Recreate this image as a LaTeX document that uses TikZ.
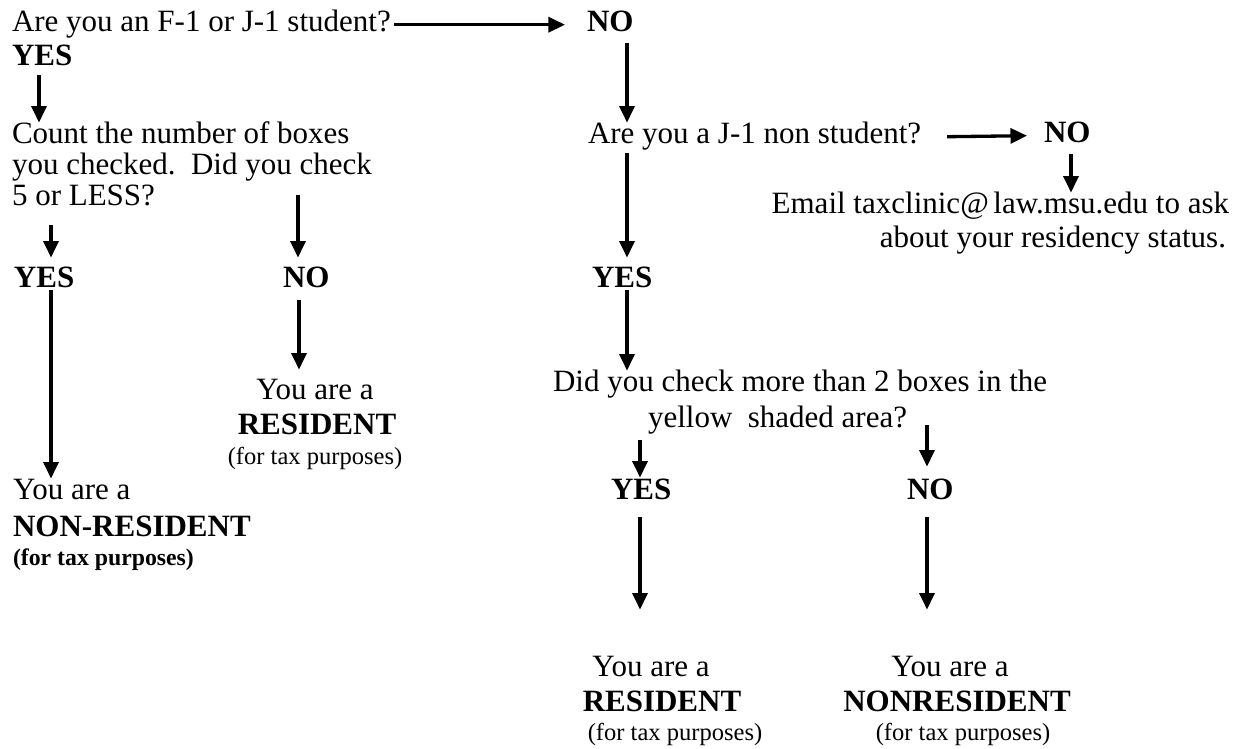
\documentclass[tikz,border=0pt]{standalone}
\usepackage{fontspec}
\setmainfont{Liberation Serif}
\usetikzlibrary{arrows.meta}
\newdimen\pxu \pxu=0.3871pt
\begin{document}
\begin{tikzpicture}[x=0.3871pt,y=-0.3871pt,
  txt/.style={inner sep=0pt, outer sep=0pt, text height=8.28pt, text depth=2.64pt, font=\fontsize{12}{14}\selectfont, anchor=base west},
  bld/.style={txt, font=\fontsize{12}{14}\selectfont\bfseries},
  small/.style={txt, text height=6.6pt, text depth=2.1pt, font=\fontsize{9.5}{11}\selectfont},
  smallb/.style={small, font=\fontsize{9.2}{11}\selectfont\bfseries},
  arr/.style={line width=1.28pt, -{Triangle[length=6.4pt,width=5.8pt]}}]
\useasboundingbox (0,0) rectangle (1242,749);
% left column
\node[txt] (q1) at (12,32) {Are you an F-1 or J-1 student?};
\node[bld] (no1) at (587,32) {NO};
\node[bld] (yes1) at (12,66) {YES};
\node[txt] (c1) at (12,144) {Count the number of boxes};
\node[txt] (c2) at (12,175) {you checked.\ \ Did you check};
\node[txt] (c3) at (12,206) {5 or LESS?};
\node[bld] (yesA) at (14,288) {YES};
\node[bld] (noA) at (283,288) {NO};
\node[txt,anchor=base] (rA1) at (315,400) {You are a};
\node[bld,anchor=base] (rA2) at (317,435) {RESIDENT};
\node[small,anchor=base] (rA3) at (315,465) {(for tax purposes)};
\node[txt] (nA1) at (13,500) {You are a};
\node[bld] (nA2) at (13,537) {NON-RESIDENT};
\node[smallb] (nA3) at (13,566) {(for tax purposes)};
% right column
\node[txt] (q2) at (588,144) {Are you a J-1 non student?};
\node[bld] (no2) at (1044,143) {NO};
\node[txt,anchor=base east] (e1) at (1229,214) {Email taxclinic@\hspace{0.15em}law.msu.edu to ask};
\node[txt,anchor=base east] (e2) at (1226,248) {about your residency status.};
\node[bld] (yesB) at (592,288) {YES};
\node[txt] (d1) at (553,392) {Did you check more than 2 boxes in the};
\node[txt] (d2) at (648,428) {yellow\ \ shaded area?};
\node[bld] (yesC) at (611,500) {YES};
\node[bld] (noC) at (907,500) {NO};
\node[txt,anchor=base] (rC1) at (651,677) {You are a};
\node[bld,anchor=base] (rC2) at (662,712) {RESIDENT};
\node[small,anchor=base] (rC3) at (675,740) {(for tax purposes)};
\node[txt,anchor=base] (nC1) at (950,677) {You are a};
\node[bld,anchor=base] (nC2) at (957,712) {NONRESIDENT};
\node[small,anchor=base] (nC3) at (963,740) {(for tax purposes)};
% connectors
\draw[arr] ([xshift=3\pxu]q1.east) -- ([xshift=-22\pxu]no1.west);
\draw[arr] ([xshift=27\pxu,yshift=-2\pxu]yes1.south west) -- ([xshift=27\pxu]c1.north west);
\draw[arr] ([xshift=39\pxu,yshift=-12\pxu]c3.south west) -- ([xshift=37\pxu,yshift=9\pxu]yesA.north west);
\draw[arr] ([xshift=286\pxu,yshift=-13\pxu]c2.south west) -- ([xshift=15\pxu,yshift=9\pxu]noA.north west);
\draw[arr] ([xshift=37\pxu,yshift=5\pxu]yesA.south west) -- ([xshift=38\pxu]nA1.north west);
\draw[arr] ([xshift=16\pxu,yshift=-5\pxu]noA.south west) -- ([xshift=-16\pxu,yshift=9\pxu]rA1.north);
\draw[arr] ([xshift=40\pxu,yshift=-4\pxu]no1.south west) -- ([xshift=39\pxu]q2.north west);
\draw[arr] ([xshift=39\pxu,yshift=-2\pxu]q2.south west) -- ([xshift=35\pxu,yshift=9\pxu]yesB.north west);
\draw[arr] ([xshift=26\pxu]q2.east) -- ([xshift=-17\pxu]no2.west);
\draw[arr] ([xshift=27\pxu,yshift=-4\pxu]no2.south west) -- ([xshift=-158\pxu]e1.north east);
\draw[arr] ([xshift=35\pxu,yshift=5\pxu]yesB.south west) -- ([xshift=74\pxu]d1.north west);
\draw[arr] ([xshift=-8\pxu,yshift=-5\pxu]d2.south west) -- ([xshift=29\pxu,yshift=1\pxu]yesC.north west);
\draw[arr] ([xshift=279\pxu,yshift=10\pxu]d2.south west) -- ([xshift=20\pxu,yshift=12\pxu]noC.north west);
\draw[arr] ([xshift=29\pxu,yshift=-10\pxu]yesC.south west) -- ([xshift=-11\pxu,yshift=46\pxu]rC1.north);
\draw[arr] ([xshift=20\pxu,yshift=-10\pxu]noC.south west) -- ([xshift=-23\pxu,yshift=46\pxu]nC1.north);
\end{tikzpicture}
\end{document}
